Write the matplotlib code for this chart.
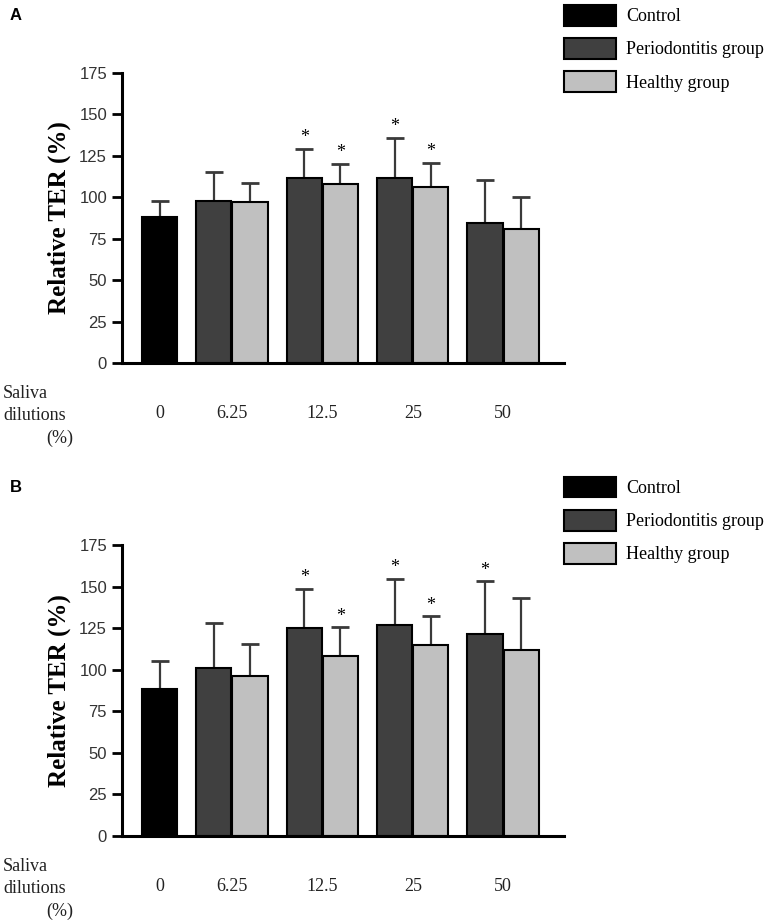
import matplotlib.pyplot as plt
from matplotlib.patches import Patch

# saliva dilutions (%), control is the 0 group
dilutions = ['0', '6.25', '12.5', '25', '50']

# panel A
control_a = 88.2
control_a_err = 9.7
perio_a = [97.9, 111.8, 111.8, 84.3]
perio_a_err = [17.5, 17.3, 24.0, 25.9]
healthy_a = [97.0, 108.2, 106.4, 80.9]
healthy_a_err = [11.8, 12.1, 14.5, 19.1]
stars_perio_a = [False, True, True, False]
stars_healthy_a = [False, True, True, False]

# panel B
control_b = 88.2
control_b_err = 17.2
perio_b = [101.2, 124.9, 126.9, 121.3]
perio_b_err = [27.1, 23.6, 27.9, 31.8]
healthy_b = [96.4, 108.2, 114.7, 111.9]
healthy_b_err = [19.1, 17.3, 17.4, 31.0]
stars_perio_b = [False, True, True, True]
stars_healthy_b = [False, True, True, False]

SERIF = 'Liberation Serif'
SANS = 'Liberation Sans'

fig = plt.figure(figsize=(7.65, 9.22), dpi=100)

# x positions of the groups
x_control = 0.2
x_groups = [1, 2, 3, 4]
w = 0.39
off = 0.2


def draw_panel(ax, control, control_err, perio, perio_err, healthy, healthy_err,
               stars_p, stars_h):
    ebk = dict(fmt='none', ecolor='#3a3a3a', elinewidth=1.6, capsize=6.5,
               capthick=2, zorder=1)
    xp = [x - off for x in x_groups]
    xh = [x + off for x in x_groups]
    ax.bar(x_control, control, w, color='black', edgecolor='black', lw=1.5, zorder=2)
    ax.bar(xp, perio, w, color='#404040', edgecolor='black', lw=1.5, zorder=2)
    ax.bar(xh, healthy, w, color='#c0c0c0', edgecolor='black', lw=1.5, zorder=2)
    # upper error bars only; the lower half hides under the bars
    ax.errorbar([x_control], [control], yerr=[[0], [control_err]], **ebk)
    ax.errorbar(xp, perio, yerr=[[0] * 4, perio_err], **ebk)
    ax.errorbar(xh, healthy, yerr=[[0] * 4, healthy_err], **ebk)
    for i in range(4):
        if stars_p[i]:
            ax.annotate('*', (xp[i], perio[i] + perio_err[i]), xytext=(0, 2),
                        textcoords='offset points', ha='center', va='bottom',
                        fontsize=13, family=SERIF)
        if stars_h[i]:
            ax.annotate('*', (xh[i], healthy[i] + healthy_err[i]), xytext=(0, 2),
                        textcoords='offset points', ha='center', va='bottom',
                        fontsize=13, family=SERIF)

    ax.set_xlim(-0.219, 4.67)
    ax.set_ylim(0, 175)
    ax.set_yticks(range(0, 176, 25))
    ax.set_xticks([x_control] + x_groups)
    ax.set_xticklabels(dilutions, family=SERIF, fontsize=13, color='#222222')
    ax.tick_params(axis='x', length=0, pad=30)
    ax.tick_params(axis='y', length=7, width=2, labelsize=12, labelcolor='#333333')
    for lab in ax.get_yticklabels():
        lab.set_family(SANS)
    for s in ['top', 'right']:
        ax.spines[s].set_visible(False)
    ax.spines['left'].set_linewidth(2.2)
    ax.spines['bottom'].set_linewidth(2.2)
    ax.set_ylabel('Relative TER (%)', family=SERIF, fontweight='bold',
                  fontsize=18, labelpad=6)

    handles = [Patch(facecolor='black', edgecolor='black', lw=1.5),
               Patch(facecolor='#404040', edgecolor='black', lw=1.5),
               Patch(facecolor='#c0c0c0', edgecolor='black', lw=1.5)]
    ax.legend(handles, ['Control', 'Periodontitis group', 'Healthy group'],
              loc='upper left', bbox_to_anchor=(1.0, 1.235), frameon=False,
              prop={'family': SERIF, 'size': 13}, handlelength=2.9,
              handleheight=1.4, labelspacing=0.68, handletextpad=0.55,
              borderpad=0, borderaxespad=0)


ax_a = fig.add_axes([0.159, 0.6063, 0.578, 0.3145])
draw_panel(ax_a, control_a, control_a_err, perio_a, perio_a_err,
           healthy_a, healthy_a_err, stars_perio_a, stars_healthy_a)

ax_b = fig.add_axes([0.159, 0.0933, 0.578, 0.3156])
draw_panel(ax_b, control_b, control_b_err, perio_b, perio_b_err,
           healthy_b, healthy_b_err, stars_perio_b, stars_healthy_b)

# panel letters and the x axis caption
for letter, ytop, ycap in [('A', 8, 393), ('B', 480, 866)]:
    fig.text(10 / 765, 1 - ytop / 922, letter, fontweight='bold', fontsize=12,
             family=SANS, va='top', ha='left')
    fig.text(3 / 765, 1 - ycap / 922, 'Saliva', family=SERIF, fontsize=13,
             va='center', ha='left', color='#222222')
    fig.text(3 / 765, 1 - (ycap + 22) / 922, 'dilutions', family=SERIF,
             fontsize=13, va='center', ha='left', color='#222222')
    fig.text(73 / 765, 1 - (ycap + 45) / 922, '(%)', family=SERIF, fontsize=13,
             va='center', ha='right', color='#222222')

fig.savefig('out.png', dpi=100)
